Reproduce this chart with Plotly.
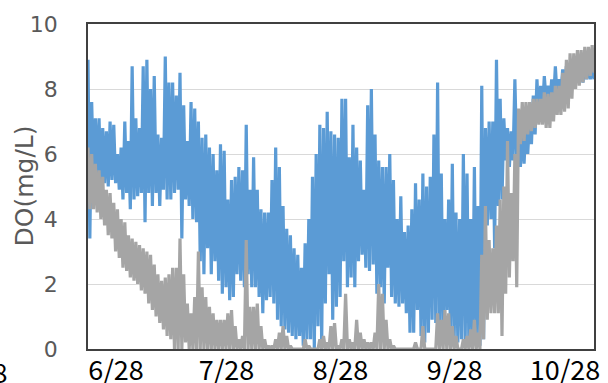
import numpy as np
import plotly.graph_objects as go

# ---- data: daily high / low DO (mg/L), one value per day ----
start_date = "2019-06-20T09:00"
n_days = 138

blue_hi = [8.9, 7.6, 7.1, 7.1, 6.8, 6.7, 7.0, 6.9, 6.0, 6.2,
           7.0, 6.4, 8.7, 7.1, 6.8, 8.7, 8.9, 8.0, 8.4, 6.6,
           6.5, 9.0, 8.2, 8.2, 7.8, 8.5, 7.5, 6.4, 7.6, 7.4,
           7.0, 6.5, 6.6, 6.2, 6.0,
           5.5, 6.3, 6.1, 4.6, 5.2, 5.3, 5.6, 5.5, 6.9, 4.9,
           5.9, 4.9, 4.3, 4.2, 4.2, 5.2, 6.2, 5.6, 4.4, 3.7,
           3.5, 3.1, 2.9, 2.5, 3.25, 4.0, 5.3, 6.0, 6.9, 6.8,
           7.3, 6.7, 6.6,
           6.5, 7.7, 7.7, 5.9, 6.9, 6.2, 5.8, 4.9, 7.5, 8.0,
           6.6, 5.8, 5.6, 5.6, 6.0, 5.2, 4.0, 4.7, 3.6, 3.8,
           4.3, 5.1, 4.6, 5.4, 5.0, 5.3, 6.6, 8.2, 5.4, 4.0,
           4.6, 5.7, 4.2,
           4.0, 6.0, 5.4, 4.0, 5.6, 4.4, 8.1, 6.8, 7.0, 7.0,
           8.9, 7.7, 7.1, 6.8, 6.7, 8.3, 6.6, 6.8, 7.0, 7.2,
           7.8, 8.3, 8.1, 8.4, 8.1, 8.3, 8.7, 8.3, 8.6, 8.7,
           8.8, 8.7, 8.8, 8.6, 8.8, 8.7, 8.7]

blue_lo = [3.4, 5.2, 5.3, 5.1, 5.1, 5.0, 5.2, 5.1, 4.9, 4.6,
           4.8, 4.3, 4.6, 4.7, 4.8, 3.9, 4.8, 4.4, 4.8, 4.4,
           4.9, 4.6, 4.6, 4.8, 4.9, 3.4, 4.6, 4.4, 4.0, 3.9,
           2.7, 2.3, 3.1, 2.3, 2.7,
           2.1, 1.7, 1.9, 1.5, 1.6, 2.3, 2.1, 1.9, 2.3, 1.9,
           1.9, 1.6, 1.1, 1.5, 1.6, 1.4, 0.9, 0.7, 0.6, 0.5,
           0.4, 0.3, 0.4, 0.1, 0.3, 0.3, 0.0, 0.7, 0.1, 1.4,
           2.3, 0.9, 1.3,
           1.6, 2.7, 1.9, 2.2, 1.9, 2.7, 2.9, 2.5, 2.4, 2.6,
           1.7, 1.9, 1.4, 2.5, 1.6, 1.4, 1.3, 1.4, 1.1, 0.5,
           0.5, 1.2, 0.4, 0.2, 0.5, 0.9, 0.8, 0.5, 0.6, 1.2,
           0.4, 0.3, 0.2,
           0.3, 0.3, 0.1, 0.3, 0.3, 0.1, 0.3, 3.8, 4.0, 3.1,
           4.4, 4.6, 5.8, 5.6, 5.8, 5.9, 5.6, 5.7, 6.0, 6.3,
           6.6, 7.0, 7.3, 7.6, 7.5, 7.6, 7.7, 7.9, 8.0, 8.1,
           8.1, 8.2, 8.2, 8.2, 8.3, 8.3, 8.3]

gray_hi = [6.2, 6.0, 5.7, 5.5, 5.3, 4.9, 4.8, 4.5, 4.3, 4.0,
           3.9, 3.5, 3.4, 3.3, 3.2, 3.1, 3.0, 2.9, 2.6, 2.3,
           2.1, 2.2, 2.3, 2.5, 2.5, 3.4, 2.3, 1.4, 1.1, 1.6,
           3.0, 1.9, 1.6, 1.3, 1.1,
           0.9, 0.9, 0.9, 1.1, 1.2, 0.7, 0.3, 0.4, 3.35, 1.3,
           1.3, 1.4, 0.7, 0.3, 0.1, 0.1, 0.3, 0.5, 0.7, 0.4,
           0.1, 0.0, 0.0, 0.0, 0.3, 0.1, 0.0, 0.0, 0.3, 0.4,
           0.2, 0.7, 0.8,
           0.1, 0.3, 1.7, 0.3, 0.2, 0.9, 0.5, 0.3, 0.2, 0.2,
           0.5, 2.0, 1.7, 0.9, 0.3, 0.1, 0.0, 0.0, 0.0, 0.0,
           0.0, 0.2, 0.0, 0.7, 0.0, 0.0, 0.0, 1.1, 0.9, 1.2,
           1.1, 0.7, 0.4,
           0.0, 0.3, 0.4, 0.6, 0.9, 0.5, 2.9, 4.4, 3.35, 3.1,
           3.8, 4.6, 5.0, 6.4, 4.8, 6.0, 7.4, 7.6, 7.6, 7.6,
           7.7, 7.7, 7.7, 7.9, 7.85, 7.9, 8.1, 8.1, 8.5, 8.9,
           9.1, 9.1, 9.2, 9.2, 9.3, 9.3, 9.35]

gray_lo = [4.3, 4.3, 4.2, 4.0, 3.8, 3.5, 3.4, 3.0, 2.8, 2.5,
           2.4, 2.2, 2.1, 2.0, 1.8, 1.7, 1.4, 1.2, 1.0, 0.8,
           0.6, 0.4, 0.3, 0.0, 0.0, 0.0, 0.2, 0.0, 0.0, 0.0,
           0.0, 0.0, 0.0, 0.0, 0.0,
           0.0, 0.0, 0.0, 0.0, 0.0, 0.0, 0.0, 0.0, 0.0, 0.0,
           0.0, 0.0, 0.0, 0.0, 0.0, 0.0, 0.0, 0.0, 0.0, 0.0,
           0.0, 0.0, 0.0, 0.0, 0.0, 0.0, 0.0, 0.0, 0.0, 0.0,
           0.0, 0.0, 0.0,
           0.0, 0.0, 0.0, 0.0, 0.0, 0.0, 0.0, 0.0, 0.0, 0.0,
           0.0, 0.0, 0.0, 0.0, 0.0, 0.0, 0.0, 0.0, 0.0, 0.0,
           0.0, 0.0, 0.0, 0.0, 0.0, 0.0, 0.0, 0.0, 0.0, 0.0,
           0.0, 0.0, 0.0,
           0.0, 0.0, 0.0, 0.0, 0.0, 0.0, 0.3, 0.9, 1.1, 1.1,
           1.1, 0.4, 1.7, 2.2, 2.7, 1.9, 6.3, 6.4, 6.6, 6.7,
           6.8, 6.9, 6.9, 6.8, 6.8, 7.0, 7.2, 7.2, 7.3, 7.4,
           7.7, 8.0, 8.1, 8.2, 8.3, 8.4, 8.5]

tick_dates = ["2019-06-28", "2019-07-28", "2019-08-28", "2019-09-28", "2019-10-28"]
tick_labels = ["6/28", "7/28", "8/28", "9/28", "10/28"]
y_ticks = [0, 2, 4, 6, 8, 10]
y_title = "DO(mg/L)"

# ---- build the sub-daily series: high reading then low reading each day ----
t0 = np.datetime64(start_date)
half_day = np.timedelta64(12, "h")
times = [t0 + np.timedelta64(24, "h") * d + half_day * k
         for d in range(n_days) for k in (0, 1)]
blue = [v for pair in zip(blue_hi, blue_lo) for v in pair]
gray = [v for pair in zip(gray_hi, gray_lo) for v in pair]
times = [str(t) for t in times]

fig = go.Figure()
fig.add_trace(go.Scatter(x=times, y=blue, mode="lines",
                         line=dict(color="#5B9BD5", width=3.2), showlegend=False))
fig.add_trace(go.Scatter(x=times, y=gray, mode="lines",
                         line=dict(color="#A5A5A5", width=3.2), showlegend=False))

x_end = str(t0 + np.timedelta64(24, "h") * (n_days - 1) + half_day)

fig.update_layout(
    width=608, height=383,
    margin=dict(l=88, r=14, t=24, b=34, pad=0),
    paper_bgcolor="white", plot_bgcolor="white",
    xaxis=dict(type="date", range=[str(t0), x_end], automargin=False,
               tickvals=tick_dates, ticktext=tick_labels,
               showgrid=False, zeroline=False, ticks="",
               showline=True, mirror=True, linecolor="#404040", linewidth=1.5,
               tickfont=dict(family="Noto Sans CJK JP", size=27, color="#000000"),
               ticklabelstandoff=-3),
    yaxis=dict(range=[0, 10], tickvals=y_ticks, showgrid=True, automargin=False,
               gridcolor="#D9D9D9", gridwidth=1, zeroline=False, ticks="",
               showline=True, mirror=True, linecolor="#404040", linewidth=1.5,
               tickfont=dict(family="DejaVu Sans", size=22, color="#595959"),
               ticklabelstandoff=24),
    annotations=[
        dict(text=y_title, xref="paper", yref="paper",
             x=-64 / 506, y=0.5, xanchor="center", yanchor="middle",
             textangle=-90, showarrow=False,
             font=dict(family="DejaVu Sans", size=25, color="#595959")),
        dict(text="5/28", xref="paper", yref="paper",
             x=-78 / 506, y=-0.068, xanchor="right", yanchor="middle",
             showarrow=False,
             font=dict(family="Noto Sans CJK JP", size=27, color="#000000")),
    ],
)

fig.write_html("out.html")
